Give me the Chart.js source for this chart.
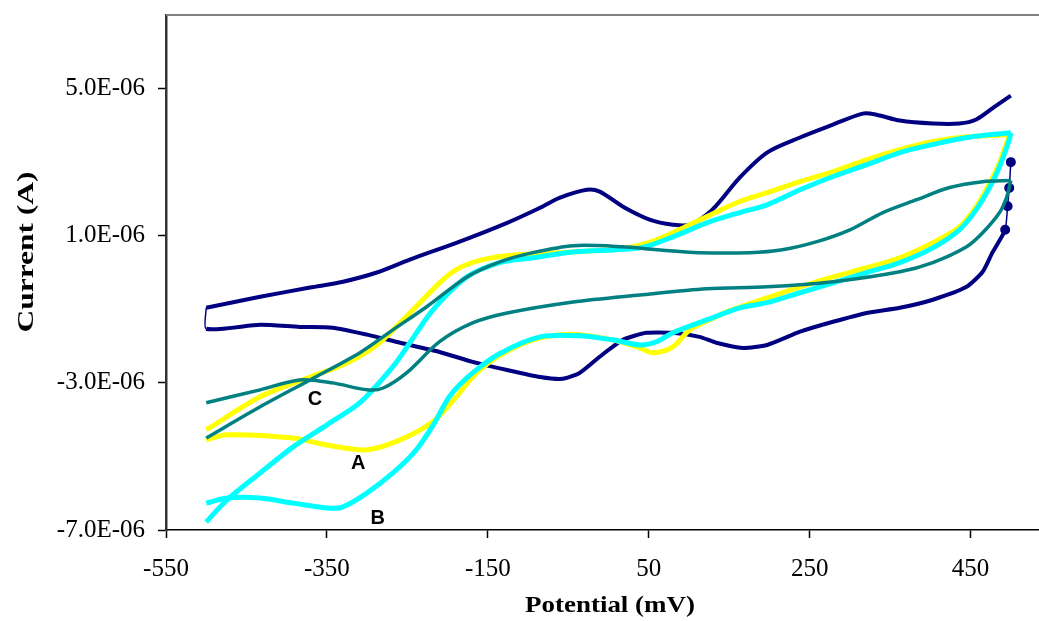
<!DOCTYPE html>
<html>
<head>
<meta charset="utf-8">
<script src="https://cdn.jsdelivr.net/npm/chart.js@4.4.1/dist/chart.umd.min.js"></script>
<style>
  body { margin: 0; background: #fff; }
  #wrap { width: 1039px; height: 621px; }
</style>
</head>
<body>
<div id="wrap"><canvas id="cvChart" width="1039" height="621"></canvas></div>
<script>
// ==== DATA (potential in mV, current in microamps) ====
// each voltammogram: forward scan (to +500 mV) and reverse scan (back to -500 mV)
const navyForward = [
  [-500, -0.96], [-433, -0.66], [-371, -0.41], [-330, -0.25], [-288, 0.0], [-247, 0.35],
  [-185, 0.84], [-126, 1.35], [-85, 1.76], [-61, 2.03], [-27, 2.25], [-11, 2.20], [18, 1.79],
  [51, 1.44], [80, 1.30], [101, 1.30], [129, 1.71], [163, 2.58], [197, 3.26], [238, 3.67],
  [279, 4.02], [316, 4.32], [333, 4.29], [362, 4.13], [403, 4.05], [436, 4.05], [457, 4.16],
  [480, 4.51], [500, 4.81]
];
const navyReverse = [
  [500, 3.0], [498, 2.30], [496, 1.80], [493, 1.16], [483, 0.76], [477, 0.54], [465, 0.02],
  [445, -0.39], [403, -0.74], [362, -0.96], [321, -1.10], [279, -1.34], [238, -1.61],
  [197, -1.97], [167, -2.05], [134, -1.91], [113, -1.75], [80, -1.64], [47, -1.64], [18, -1.83],
  [-11, -2.29], [-36, -2.73], [-57, -2.89], [-85, -2.84], [-126, -2.65], [-169, -2.43],
  [-210, -2.16], [-259, -1.91], [-300, -1.69], [-343, -1.50], [-384, -1.48], [-433, -1.42],
  [-500, -1.53], [-500, -0.96]
];

const tealForward = [
  [-500, -4.50], [-433, -3.65], [-371, -2.92], [-309, -2.18], [-268, -1.56], [-226, -0.93],
  [-176, -0.12], [-135, 0.29], [-94, 0.54], [-44, 0.73], [18, 0.70], [60, 0.62], [113, 0.54],
  [175, 0.54], [216, 0.62], [259, 0.84], [300, 1.16], [341, 1.63], [383, 1.98], [424, 2.31],
  [465, 2.47], [500, 2.50]
];
const tealReverse = [
  [500, 2.50], [495, 2.06], [486, 1.63], [465, 1.08], [445, 0.70], [403, 0.27], [362, 0.02],
  [279, -0.25], [197, -0.39], [122, -0.44], [39, -0.61], [-44, -0.80], [-126, -1.10],
  [-169, -1.37], [-210, -1.88], [-251, -2.73], [-280, -3.14], [-300, -3.19], [-343, -3.00],
  [-384, -2.92], [-433, -3.19], [-500, -3.54]
];

const yellowForward = [
  [-500, -4.28], [-433, -3.38], [-371, -2.84], [-330, -2.51], [-288, -1.97], [-247, -1.10],
  [-206, -0.20], [-185, 0.13], [-156, 0.35], [-114, 0.48], [-44, 0.56], [18, 0.65], [60, 0.89],
  [101, 1.30], [163, 1.93], [197, 2.17], [238, 2.47], [279, 2.74], [321, 3.07], [362, 3.34],
  [403, 3.56], [445, 3.69], [500, 3.75]
];
const yellowReverse = [
  [500, 3.75], [496, 3.61], [486, 2.99], [474, 2.44], [457, 1.79], [436, 1.24], [403, 0.81],
  [362, 0.40], [321, 0.13], [279, -0.12], [238, -0.39], [197, -0.69], [154, -1.01], [134, -1.20],
  [101, -1.56], [80, -2.02], [55, -2.18], [39, -2.05], [5, -1.83], [-36, -1.69], [-61, -1.69],
  [-94, -1.83], [-135, -2.25], [-165, -2.75], [-190, -3.40], [-218, -4.05], [-259, -4.55],
  [-300, -4.82], [-350, -4.69], [-392, -4.50], [-474, -4.41], [-500, -4.55]
];

const cyanForward = [
  [-500, -6.78], [-474, -6.18], [-433, -5.45], [-392, -4.74], [-350, -4.14], [-309, -3.54],
  [-268, -2.56], [-247, -1.91], [-218, -1.01], [-176, -0.12], [-135, 0.27], [-94, 0.40],
  [-44, 0.56], [39, 0.67], [80, 0.97], [122, 1.35], [163, 1.63], [197, 1.84], [238, 2.25],
  [279, 2.61], [321, 2.93], [362, 3.26], [403, 3.48], [445, 3.67], [500, 3.80]
];
const cyanReverse = [
  [500, 3.80], [498, 3.61], [486, 2.88], [474, 2.33], [457, 1.71], [436, 1.16], [403, 0.67],
  [362, 0.27], [321, 0.0], [279, -0.28], [238, -0.55], [197, -0.82], [163, -0.96], [122, -1.29],
  [80, -1.64], [60, -1.88], [39, -1.97], [5, -1.83], [-36, -1.72], [-85, -1.75], [-135, -2.20],
  [-170, -2.75], [-197, -3.35], [-218, -4.15], [-240, -4.85], [-268, -5.45], [-300, -5.99],
  [-330, -6.37], [-350, -6.40], [-392, -6.27], [-433, -6.13], [-474, -6.13], [-500, -6.27]
];

const xTicks = [-550, -350, -150, 50, 250, 450];
const yTicks = [-7, -3, 1, 5];

const curveNames = ['A', 'B', 'C'];
const curveNameX = [-311, -287, -365];
const curveNameY = [-5.20, -6.70, -3.44];

const xTitle = 'Potential (mV)';
const yTitle = 'Current (A)';

// ==== HELPERS ====
const toPoints = arr => arr.map(p => ({ x: p[0], y: p[1] }));

function makeSet(label, scan, color, width, order) {
  return {
    label: label,
    data: toPoints(scan),
    showLine: true,
    borderColor: color,
    backgroundColor: color,
    borderWidth: width,
    pointRadius: 0,
    tension: 0.3,
    fill: false,
    order: order
  };
}

// navy: the near-vertical join at the right end is thin, with markers
const navyRev = makeSet('navy reverse', navyReverse, '#000080', 4, 4);
navyRev.segment = {
  borderWidth: c => Math.abs(c.p1.parsed.x - c.p0.parsed.x) < 5 ? 1.5 : 4
};
navyRev.pointRadius = c => c.dataIndex < 4 ? 3 : 0;
navyRev.tension = 0.2;

// draws text stretched to a given length (the original titles are wider than the font)
function stretchedText(ctx, text, x, y, angle, length) {
  ctx.save();
  ctx.translate(x, y);
  ctx.rotate(angle);
  ctx.scale(length / ctx.measureText(text).width, 1);
  ctx.fillText(text, 0, 0);
  ctx.restore();
}

// ==== PLUGINS ====
const frameAndNames = {
  id: 'frameAndNames',
  afterDatasetsDraw(chart) {
    const { ctx, chartArea, scales } = chart;
    ctx.save();
    ctx.strokeStyle = '#808080';
    ctx.lineWidth = 2;
    ctx.beginPath();
    ctx.moveTo(chartArea.left, chartArea.top);
    ctx.lineTo(chartArea.right, chartArea.top);
    ctx.stroke();

    ctx.fillStyle = '#000';
    ctx.textAlign = 'center';
    ctx.textBaseline = 'middle';
    ctx.font = 'bold 20px "Liberation Sans", Arial, sans-serif';
    curveNames.forEach((t, i) => {
      ctx.fillText(t, scales.x.getPixelForValue(curveNameX[i]), scales.y.getPixelForValue(curveNameY[i]));
    });

    // axis titles
    ctx.font = 'bold 24px "Liberation Serif", "Times New Roman", serif';
    stretchedText(ctx, xTitle, 610, 606, 0, 170);
    stretchedText(ctx, yTitle, 27, 252, -Math.PI / 2, 161);
    ctx.restore();
  }
};

// ==== CHART ====
const ctx = document.getElementById('cvChart').getContext('2d');
new Chart(ctx, {
  type: 'scatter',
  data: {
    datasets: [
      makeSet('navy forward', navyForward, '#000080', 4, 4),
      navyRev,
      makeSet('yellow forward', yellowForward, '#FFFF00', 5, 3),
      makeSet('yellow reverse', yellowReverse, '#FFFF00', 5, 3),
      makeSet('cyan forward', cyanForward, '#00FFFF', 5, 2),
      makeSet('cyan reverse', cyanReverse, '#00FFFF', 5, 2),
      makeSet('teal forward', tealForward, '#008080', 3.5, 1),
      makeSet('teal reverse', tealReverse, '#008080', 3.5, 1)
    ]
  },
  options: {
    responsive: false,
    animation: false,
    layout: { autoPadding: false, padding: { top: 15, right: 0, left: 0, bottom: 0 } },
    plugins: {
      legend: { display: false },
      tooltip: { enabled: false }
    },
    scales: {
      x: {
        type: 'linear',
        min: -550,
        max: 535,
        afterBuildTicks: s => { s.ticks = xTicks.map(v => ({ value: v })); },
        afterFit: s => { s.height = 91; s.paddingLeft = 0; s.paddingRight = 0; },
        grid: { drawOnChartArea: false, drawTicks: true, tickLength: 8, color: '#000', tickWidth: 1.5 },
        border: { color: '#000', width: 1.5 },
        ticks: {
          color: '#000',
          padding: 16,
          maxRotation: 0,
          font: { family: '"Liberation Serif", "Times New Roman", serif', size: 25 },
          callback: v => String(v)
        },
        title: { display: false }
      },
      y: {
        type: 'linear',
        min: -7,
        max: 7,
        afterBuildTicks: s => { s.ticks = yTicks.map(v => ({ value: v })); },
        afterFit: s => { s.width = 166; s.paddingTop = 0; s.paddingBottom = 0; },
        grid: { drawOnChartArea: false, drawTicks: true, tickLength: 8, color: '#000', tickWidth: 1.5 },
        border: { color: '#333', width: 2.5 },
        ticks: {
          color: '#000',
          padding: 13,
          font: { family: '"Liberation Serif", "Times New Roman", serif', size: 25 },
          callback: v => v.toFixed(1) + 'E-06'
        },
        title: { display: false }
      }
    }
  },
  plugins: [frameAndNames]
});
</script>
</body>
</html>
